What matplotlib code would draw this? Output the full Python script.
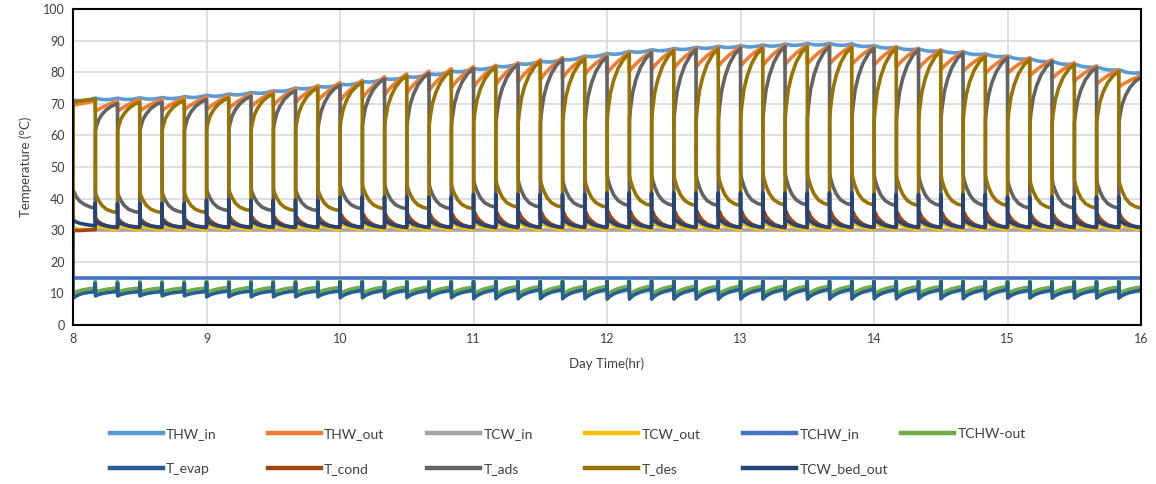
import numpy as np
import matplotlib.pyplot as plt
from matplotlib.lines import Line2D

plt.rcParams['font.family'] = ['Lato', 'DejaVu Sans']

# beds switch every 10 min (48 half-cycles from 8:00 to 16:00)
n_half = 48
start_hour = 8

# THW_in read at every switch instant (tops of the small ripples)
thw_in_sw = [71.2, 71.8, 71.8, 71.9, 72.0, 72.3,
             72.7, 73.1, 73.6, 74.1, 75.0, 75.5,
             76.2, 77.0, 78.0, 78.6, 79.4, 80.3,
             81.1, 81.9, 82.7, 83.5, 84.0, 85.1,
             85.9, 86.6, 87.1, 87.5, 87.9, 88.2,
             88.4, 88.6, 88.9, 89.1, 89.1, 88.9,
             88.4, 87.9, 87.4, 86.9, 86.4, 85.8,
             85.1, 84.3, 83.5, 82.6, 81.7, 80.8, 79.8]

# bed temperature at the end of each heating half-cycle
bed_peak = [71.5, 70.0, 70.5, 70.5, 71.0, 71.3,
            71.8, 72.3, 73.1, 74.1, 75.0, 75.9,
            76.7, 77.8, 78.8, 79.6, 80.4, 81.1,
            81.6, 82.4, 83.3, 84.0, 84.3, 84.8,
            85.8, 86.1, 86.8, 87.1, 87.4, 87.6,
            87.6, 88.1, 88.1, 88.1, 87.9, 87.6,
            87.6, 87.1, 86.6, 86.1, 85.0, 84.5,
            84.0, 83.3, 82.4, 81.4, 80.2, 78.3]

# levels read once per hour (8-9, 9-10, ... 15-16)
thw_out_gap = [4.2, 4.6, 5.2, 5.8, 6.3, 6.5, 6.2, 5.5]
thw_out_over = [0.9, 0.8, 0.7, 0.6, 0.5, 0.5, 0.5, 0.6]
hot_jump = [61.5, 62.0, 63.0, 64.0, 65.0, 65.5, 65.0, 64.0]
cold_drop = [42.0, 43.0, 44.5, 46.0, 47.5, 48.0, 47.5, 46.0]
cold_low = [35.6, 36.2, 36.8, 37.3, 37.8, 38.0, 37.8, 37.0]
navy_peak = [38.5, 39.5, 40.5, 41.3, 41.8, 41.8, 41.3, 40.5]
navy_after = [32.8, 33.0, 33.3, 33.6, 33.8, 33.8, 33.6, 33.3]
cond_peak = [33.5, 34.2, 35.0, 35.6, 35.9, 35.9, 35.6, 35.0]
tcw_out_peak = [31.8, 32.0, 32.3, 32.5, 32.6, 32.6, 32.5, 32.3]
evap_spike = [13.2, 13.4, 13.6, 13.7, 13.8, 13.8, 13.7, 13.6]
evap_low = [9.2, 8.9, 8.6, 8.3, 8.2, 8.2, 8.3, 8.5]
evap_end = [10.6, 10.8, 11.0, 11.2, 11.3, 11.3, 11.2, 11.0]
chw_spike = [13.8, 14.0, 14.1, 14.2, 14.2, 14.2, 14.2, 14.1]
chw_low = [10.3, 10.1, 9.8, 9.6, 9.5, 9.5, 9.6, 9.8]
chw_end = [11.7, 11.9, 12.0, 12.2, 12.3, 12.3, 12.2, 12.0]

tcw_in_val = 30.0
tchw_in_val = 15.0
navy_end = 31.0
cond_end = 30.8
tcw_out_end = 30.2

# shape of one half-cycle (phase 0 = switch)
phase = [0.0, 0.01, 0.05, 0.15, 0.3, 0.5, 0.75, 1.0]
thw_ripple = [0.0, -0.02, -0.08, -0.25, -0.42, -0.5, -0.35, 0.0]
thw_out_shape = [0.0, 0.01, 0.06, 0.2, 0.37, 0.58, 0.8, 1.0]
hot_shape = [0.0, 0.15, 0.4, 0.6, 0.78, 0.92, 1.0]
cold_shape = [0.0, 0.17, 0.4, 0.65, 0.84, 0.95, 1.0]
navy_shape = [0.0, 0.15, 0.35, 0.6, 0.82, 0.95, 1.0]
cond_shape = [0.0, 0.6, 1.0, 0.7, 0.45, 0.22, 0.08, 0.0]
tcw_out_shape = [1.0, 1.0, 0.9, 0.7, 0.48, 0.28, 0.12, 0.0]
evap_shape = [0.0, 0.12, 0.32, 0.52, 0.72, 0.88, 1.0]

# first half-cycle (start-up from 8:00), same phase points
des_first = [30.0, 70.5, 70.6, 70.7, 70.9, 71.1, 71.3, 71.5]
ads_first = [25.0, 42.7, 42.0, 40.5, 39.2, 38.2, 37.4, 36.9]
thw_out_first = [55.0, 69.5, 69.6, 69.8, 70.0, 70.3, 70.6, 70.9]
cond_first = [20.0, 29.8, 29.8, 29.9, 29.9, 30.0, 30.1, 30.2]
tcw_out_first = [30.4, 30.4, 30.4, 30.4, 30.3, 30.3, 30.2, 30.2]
navy_first = [33.3, 33.2, 33.0, 32.6, 32.2, 31.9, 31.6, 31.4]
evap_first = [20.0, 8.5, 8.7, 9.2, 9.7, 10.1, 10.4, 10.6]
chw_first = [9.8, 9.8, 10.0, 10.5, 10.9, 11.2, 11.5, 11.7]

names = ['THW_in', 'THW_out', 'TCW_in', 'TCW_out', 'TCHW_in', 'TCHW-out',
         'T_evap', 'T_cond', 'T_ads', 'T_des', 'TCW_bed_out']
colors = ['#5B9BD5', '#ED7D31', '#A5A5A5', '#FFC000', '#4472C4', '#70AD47',
          '#255E91', '#9E480E', '#636363', '#997300', '#264478']

t = []
s = {n: [] for n in names}
for h in range(n_half):
    hi = h // 6
    t0 = start_hour + h / 6
    t += [t0 + p / 6 for p in phase]
    a, b = thw_in_sw[h], thw_in_sw[h + 1]
    s['THW_in'] += [a + (b - a) * p + r for p, r in zip(phase, thw_ripple)]
    s['TCW_in'] += [tcw_in_val] * len(phase)
    s['TCHW_in'] += [tchw_in_val] * len(phase)
    if h == 0:
        s['T_des'] += des_first
        s['T_ads'] += ads_first
        s['THW_out'] += thw_out_first
        s['T_cond'] += cond_first
        s['TCW_out'] += tcw_out_first
        s['TCW_bed_out'] += navy_first
        s['T_evap'] += evap_first
        s['TCHW-out'] += chw_first
        continue
    hot, cold = ('T_des', 'T_ads') if h % 2 == 0 else ('T_ads', 'T_des')
    start = s[hot][-1]
    s[hot] += [start] + [hot_jump[hi] + (bed_peak[h] - hot_jump[hi]) * f for f in hot_shape]
    top = s[cold][-1]
    s[cold] += [top] + [cold_drop[hi] + (cold_low[hi] - cold_drop[hi]) * f for f in cold_shape]
    lo = a - thw_out_gap[hi]
    hi_v = bed_peak[h] + thw_out_over[hi]
    s['THW_out'] += [lo + (hi_v - lo) * f for f in thw_out_shape]
    s['T_cond'] += [cond_end + (cond_peak[hi] - cond_end) * f for f in cond_shape]
    s['TCW_out'] += [tcw_out_end + (tcw_out_peak[hi] - tcw_out_end) * f for f in tcw_out_shape]
    s['TCW_bed_out'] += [navy_peak[hi]] + [navy_after[hi] + (navy_end - navy_after[hi]) * f for f in navy_shape]
    s['T_evap'] += [evap_spike[hi]] + [evap_low[hi] + (evap_end[hi] - evap_low[hi]) * f for f in evap_shape]
    s['TCHW-out'] += [chw_spike[hi]] + [chw_low[hi] + (chw_end[hi] - chw_low[hi]) * f for f in evap_shape]

fig = plt.figure(figsize=(11.56, 4.84), dpi=100)
ax = fig.add_axes([73 / 1156, 1 - 325 / 484, (1141 - 73) / 1156, (325 - 9) / 484])

for n, c in zip(names, colors):
    ax.plot(t, s[n], color=c, lw=2.6, solid_joinstyle='round')

ax.set_xlim(8, 16)
ax.set_ylim(0, 100)
ax.set_xticks(range(8, 17))
ax.set_yticks(range(0, 101, 10))
ax.grid(True, color='#D9D9D9', lw=1.2)
ax.set_axisbelow(True)
ax.tick_params(length=0, labelsize=9, colors='#404040', pad=6)
for sp in ax.spines.values():
    sp.set_color('black')
    sp.set_linewidth(1.5)
ax.set_xlabel('Day Time(hr)', fontsize=9.5, color='#404040', labelpad=9)
ax.set_ylabel('Temperature (°C)', fontsize=9.5, color='#404040', labelpad=8)

col_x = [110, 268, 427, 585, 743, 901]
row_y = [434, 469]
for i, (n, c) in enumerate(zip(names, colors)):
    x = col_x[i % 6] / 1156
    y = 1 - row_y[i // 6] / 484
    fig.legend([Line2D([], [], color=c, lw=3.2)], [n], loc='center left',
               bbox_to_anchor=(x, y), frameon=False, borderpad=0, borderaxespad=0,
               handlelength=3.8, handletextpad=0.25, fontsize=10,
               labelcolor='#404040')

fig.savefig('out.png', dpi=100)
